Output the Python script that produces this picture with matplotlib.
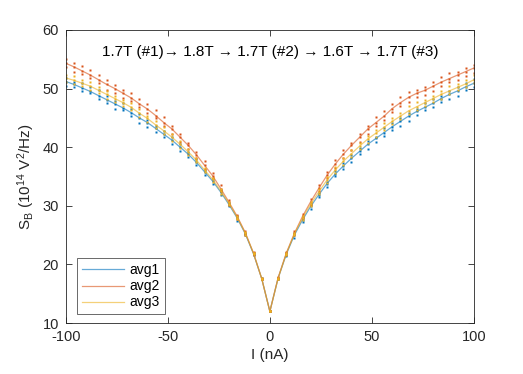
import numpy as np
import matplotlib
matplotlib.use("Agg")
import matplotlib.pyplot as plt

plt.rcParams['font.family'] = ['Liberation Sans', 'DejaVu Sans']
plt.rcParams['mathtext.fontset'] = 'custom'
plt.rcParams['mathtext.rm'] = 'Liberation Sans'
plt.rcParams['mathtext.it'] = 'Liberation Sans:italic'
plt.rcParams['axes.unicode_minus'] = False

# current in nA, step 4
current = np.arange(-100, 101, 4)

# averaged noise spectra (10^14 V^2/Hz)
avg1 = [51.2, 50.7, 50.1, 49.5, 48.8, 48.1, 47.4, 46.7, 45.9, 45.0,
        44.2, 43.2, 42.2, 41.2, 40.0, 38.8, 37.4, 35.8, 34.2, 32.3,
        30.2, 27.9, 25.2, 21.8, 17.6, 12.0, 17.6, 21.7, 25.0, 27.6,
        29.9, 31.9, 33.8, 35.4, 36.8, 38.1, 39.3, 40.5, 41.5, 42.5,
        43.5, 44.4, 45.3, 46.1, 46.8, 47.5, 48.3, 49.0, 49.6, 50.3,
        50.9]
avg2 = [54.3, 53.7, 53.0, 52.3, 51.5, 50.7, 50.0, 49.2, 48.4, 47.4,
        46.5, 45.4, 44.2, 43.1, 41.7, 40.3, 38.7, 36.9, 35.1, 32.9,
        30.6, 28.2, 25.4, 21.9, 17.6, 12.0, 17.7, 21.9, 25.3, 28.2,
        30.7, 33.0, 35.2, 37.1, 38.8, 40.3, 41.7, 43.1, 44.2, 45.3,
        46.6, 47.6, 48.5, 49.2, 49.7, 50.4, 51.1, 51.7, 52.3, 52.9,
        53.5]
avg3 = [51.8, 51.4, 50.9, 50.4, 49.7, 49.0, 48.3, 47.6, 46.8, 45.8,
        44.9, 43.8, 42.8, 41.7, 40.5, 39.2, 37.8, 36.1, 34.5, 32.5,
        30.4, 28.0, 25.3, 21.9, 17.6, 12.0, 17.6, 21.8, 25.2, 27.9,
        30.3, 32.4, 34.4, 36.1, 37.6, 38.9, 40.2, 41.4, 42.4, 43.4,
        44.4, 45.3, 46.2, 46.9, 47.6, 48.3, 49.0, 49.6, 50.2, 50.8,
        51.5]

# individual sweep offsets from the average (dots)
avg1_dev_a = [0.6, -0.4, 0.8, -0.3, 0.9, -0.6, 0.5, 0.8, -0.5, 0.6,
              -0.7, 0.5, 0.6, -0.6, 0.5, -0.4, 0.6, 0.3, -0.4, 0.4,
              -0.3, 0.3, -0.2, 0.2, -0.1, 0.0, 0.1, -0.2, 0.3, -0.3,
              0.4, -0.4, 0.3, 0.5, -0.5, 0.6, -0.5, 0.5, -0.6, 0.8,
              -0.5, 0.6, -0.8, 0.5, 0.8, -0.6, 0.5, -0.8, 0.6, -0.5,
              0.8]
avg1_dev_b = [-0.8, 0.5, -0.6, 0.8, -0.5, 0.6, -0.9, -0.3, 0.6, -0.8,
              0.5, -0.6, -0.5, 0.6, -0.7, 0.3, -0.5, -0.6, 0.4, -0.4,
              0.3, -0.4, 0.2, -0.2, 0.1, 0.0, -0.1, 0.2, -0.4, 0.3,
              -0.4, 0.3, -0.6, -0.3, 0.5, -0.6, 0.5, -0.8, 0.3, -0.6,
              0.6, -0.8, 0.5, -0.6, -0.5, 0.8, -0.6, 0.5, -0.8, 0.6,
              -0.6]
avg2_dev_a = [0.8, 0.6, -0.6, 0.9, -0.5, 0.8, -0.8, 0.6, 0.9, -0.6,
              0.8, -0.5, 0.9, -0.8, 0.6, 0.5, -0.6, 0.7, -0.4, 0.6,
              0.4, -0.4, 0.3, -0.2, 0.1, 0.0, -0.1, 0.2, -0.3, 0.4,
              0.4, -0.4, 0.6, -0.6, 0.8, 0.5, -0.8, 0.6, 0.9, -0.6,
              0.8, -0.5, 0.9, 0.6, -0.8, 0.8, -0.6, 0.9, 0.5, -0.8,
              0.6]
avg2_dev_b = [-0.6, -0.9, 0.8, -0.5, 0.8, -0.9, 0.6, -0.8, -0.5, 0.8,
              -0.6, 0.9, -0.5, 0.6, -0.8, -0.6, 0.5, -0.6, 0.5, -0.4,
              -0.4, 0.3, -0.3, 0.2, -0.1, 0.0, 0.1, -0.2, 0.4, -0.3,
              -0.6, 0.6, -0.5, 0.8, -0.6, -0.8, 0.5, -0.8, -0.5, 0.8,
              -0.6, 0.9, -0.8, -0.6, 0.6, -0.9, 0.8, -0.6, -0.8, 0.6,
              -0.8]
avg3_dev_a = [0.5, -0.6, 0.6, 0.8, -0.5, 0.6, -0.6, 0.5, 0.8, -0.6,
              0.5, -0.5, 0.6, 0.5, -0.6, 0.5, -0.4, 0.4, 0.3, -0.4,
              0.3, -0.2, 0.2, -0.1, 0.1, 0.0, 0.1, -0.1, 0.2, -0.3,
              0.3, 0.4, -0.5, 0.5, -0.6, 0.6, 0.5, -0.6, 0.5, 0.8,
              -0.5, 0.6, -0.6, 0.8, 0.5, -0.6, 0.6, 0.8, -0.5, 0.6,
              0.8]
avg3_dev_b = [-0.6, 0.8, -0.5, -0.6, 0.6, -0.8, 0.5, -0.6, -0.5, 0.8,
              -0.6, 0.6, -0.5, -0.6, 0.5, -0.6, 0.4, -0.3, -0.4, 0.3,
              -0.3, 0.2, -0.2, 0.1, -0.1, 0.0, -0.1, 0.1, -0.2, 0.3,
              -0.4, -0.3, 0.5, -0.5, 0.5, -0.6, -0.5, 0.5, -0.6, -0.5,
              0.6, -0.5, 0.8, -0.6, -0.6, 0.5, -0.8, -0.5, 0.6, -0.6,
              -0.5]

labels = ["avg1", "avg2", "avg3"]
colors = ["#0072BD", "#D95319", "#EDB120"]
series = [(avg1, avg1_dev_a, avg1_dev_b),
          (avg2, avg2_dev_a, avg2_dev_b),
          (avg3, avg3_dev_a, avg3_dev_b)]

fig = plt.figure(figsize=(5.23, 3.74), dpi=100)
ax = fig.add_axes([0.126, 0.136, 0.780, 0.784])

for (avg, da, db), col, lab in zip(series, colors, labels):
    avg = np.array(avg)
    ax.plot(current, avg, color=col, lw=0.9, alpha=0.6, label=lab)
    for dev in (np.zeros_like(avg), np.array(da), np.array(db)):
        ax.plot(current, avg + dev, ls='none', marker='s', ms=2.0,
                mec='none', color=col)

ax.set_xlim(-100, 100)
ax.set_ylim(10, 60)
ax.set_xticks([-100, -50, 0, 50, 100])
ax.set_yticks([10, 20, 30, 40, 50, 60])
ax.tick_params(direction='in', top=True, right=True, length=4,
               width=0.6, labelsize=10.5, colors='#262626', pad=5)
for sp in ax.spines.values():
    sp.set_linewidth(0.6)
    sp.set_color('#262626')

ax.set_xlabel("I (nA)", fontsize=11, color='#262626', labelpad=3)
ax.set_ylabel(r"S$_\mathrm{B}$ (10$^{14}$ V$^2$/Hz)", fontsize=11,
              color='#262626', labelpad=4)

ax.text(0.5, 0.925,
        "1.7T (#1)\u2192 1.8T \u2192 1.7T (#2) \u2192 1.6T \u2192 1.7T (#3)",
        transform=ax.transAxes, ha='center', va='center', fontsize=11,
        color='black')

leg = ax.legend(loc='lower left', bbox_to_anchor=(0.028, 0.03),
                fontsize=10, frameon=True, fancybox=False,
                handlelength=3.0, borderpad=0.35, labelspacing=0.15,
                handletextpad=0.4, borderaxespad=0)
leg.get_frame().set_edgecolor('#262626')
leg.get_frame().set_linewidth(0.6)

fig.savefig("out.png", dpi=100)
